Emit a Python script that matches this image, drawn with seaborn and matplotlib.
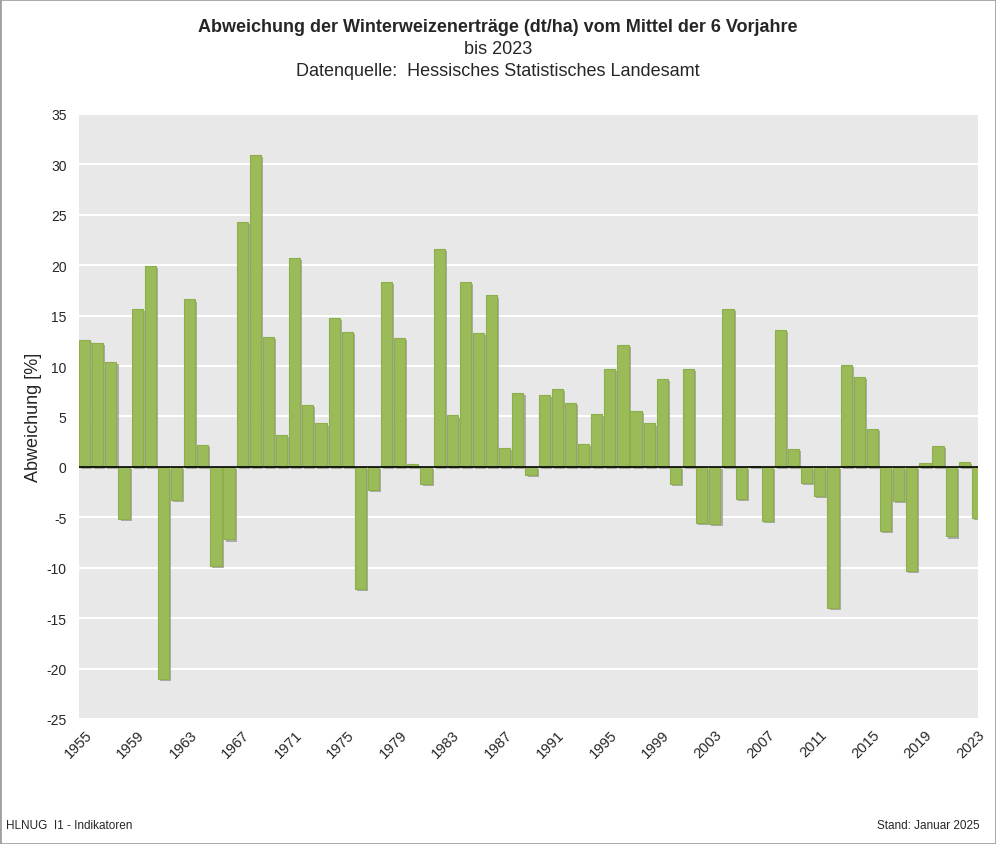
import numpy as np
import pandas as pd
import seaborn as sns
import matplotlib.pyplot as plt
import matplotlib.patheffects as pe

# deviation of winter wheat yield from the mean of the 6 previous years [%]
years = list(range(1955, 2024))
abweichung = [
    12.6, 12.3, 10.4, -5.2, 15.7, 19.9, -21.0, -3.3, 16.6, 2.2,
    -9.8, -7.2, 24.3, 30.9, 12.9, 3.2, 20.7, 6.1, 4.3, 14.8,
    13.4, -12.1, -2.3, 18.3, 12.8, 0.3, -1.7, 21.6, 5.1, 18.3,
    13.3, 17.0, 1.9, 7.3, -0.8, 7.1, 7.7, 6.3, 2.3, 5.2,
    9.7, 12.1, 5.5, 4.3, 8.7, -1.7, 9.7, -5.6, -5.7, 15.7,
    -3.2, 0.1, -5.4, 13.6, 1.8, -1.6, -2.9, -14.0, 10.1, 8.9,
    3.8, -6.4, -3.4, -10.3, 0.4, 2.1, -6.9, 0.5, -5.1,
]
yticks = list(range(-25, 40, 5))
label_years = list(range(1955, 2024, 4))

df = pd.DataFrame({'Jahr': years, 'Abweichung': abweichung})

sns.set_style('whitegrid')
plt.rcParams['font.family'] = ['Liberation Sans', 'DejaVu Sans']
plt.rcParams['axes.unicode_minus'] = False

fig = plt.figure(figsize=(9.96, 8.45), dpi=100)
ax = fig.add_axes([0.0793, 0.148, 0.903, 0.716])

sns.barplot(data=df, x='Jahr', y='Abweichung', color='#9BBB59', saturation=1,
            width=0.85, edgecolor='#8CAF4A', linewidth=0.8, ax=ax)

# little grey drop shadow like the original
for p in ax.patches:
    p.set_path_effects([pe.SimplePatchShadow(offset=(1.5, -1.5), shadow_rgbFace='#909090', alpha=0.7),
                        pe.Normal()])

ax.set_facecolor('#E8E8E8')
ax.set_ylim(-25, 35)
ax.set_xlim(-0.43, 68.07)
ax.set_yticks(yticks)
ax.yaxis.grid(True, color='white', linewidth=1.5)
ax.xaxis.grid(False)
ax.set_axisbelow(True)
ax.axhline(0, color='black', linewidth=1.2, zorder=3)
for s in ax.spines.values():
    s.set_visible(False)

pos = [years.index(y) for y in label_years]
ax.set_xticks(pos)
ax.set_xticklabels([str(y) for y in label_years], rotation=45, ha='right', va='top',
                   rotation_mode='anchor', fontsize=10.5)
ax.tick_params(axis='x', length=0, pad=6)
ax.tick_params(axis='y', length=0, pad=9, labelsize=10)
ax.set_xlabel('')
ax.set_ylabel('Abweichung [%]', fontsize=13, labelpad=3)

fig.text(0.5, 0.978, 'Abweichung der Winterweizenerträge (dt/ha) vom Mittel der 6 Vorjahre',
         ha='center', va='top', fontsize=13, fontweight='bold')
fig.text(0.5, 0.952, 'bis 2023', ha='center', va='top', fontsize=13)
fig.text(0.5, 0.926, 'Datenquelle:  Hessisches Statistisches Landesamt', ha='center', va='top', fontsize=13)

fig.text(0.006, 0.022, 'HLNUG  I1 - Indikatoren', ha='left', va='center', fontsize=8.5)
fig.text(0.984, 0.022, 'Stand: Januar 2025', ha='right', va='center', fontsize=8.5)

# grey frame around the figure
fig.patches.append(plt.Rectangle((0, 0), 1, 1, transform=fig.transFigure, fill=False,
                                 edgecolor='#A0A0A0', linewidth=2))

fig.savefig('out.png', dpi=100)
